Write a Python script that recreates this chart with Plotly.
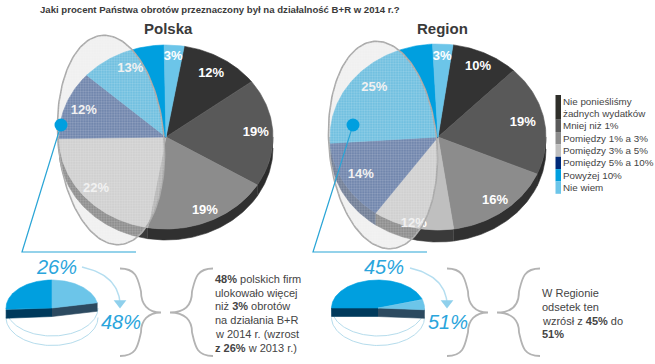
import numpy as np
import plotly.graph_objects as go

# ---------- data ----------
CATEGORIES = ["Nie ponieśliśmy żadnych wydatków", "Mniej niż 1%", "Pomiędzy 1% a 3%",
              "Pomiędzy 3% a 5%", "Pomiędzy 5% a 10%", "Powyżej 10%", "Nie wiem"]
POLSKA = [12, 19, 19, 22, 12, 13, 3]
REGION = [10, 19, 16, 12, 14, 25, 3]
POLSKA_PREV, POLSKA_NOW = 26, 48
REGION_PREV, REGION_NOW = 45, 51
TITLE = "Jaki procent Państwa obrotów przeznaczony był na działalność B+R w 2014 r.?"
POLSKA_TEXT = ["<b>48%</b> polskich firm", "ulokowało więcej", "niż <b>3%</b> obrotów",
               "na działania B+R", "w 2014 r. (wzrost", "<b>z 26%</b> w 2013 r.)"]
REGION_TEXT = ["W Regionie", "odsetek ten", "wzrósł z <b>45%</b> do", "<b>51%</b>"]
LEGEND_LINES = [["Nie ponieśliśmy", "żadnych wydatków"], ["Mniej niż 1%"], ["Pomiędzy 1% a 3%"],
                ["Pomiędzy 3% a 5%"], ["Pomiędzy 5% a 10%"], ["Powyżej 10%"], ["Nie wiem"]]

# ---------- style ----------
COLORS = ["#333333", "#595959", "#8c8c8c", "#bfbfbf", "#002a78", "#009fdf", "#6cc5e9"]
WALLS = ["#222222", "#2b2b2b", "#303030", "#3a3a3a", "#001a4a", "#00608a", "#4a8aa5"]
LEGEND_COLORS = ["#2f2f2a", "#5a5a5a", "#8c8c8c", "#bfbfbf", "#002a78", "#009fdf", "#6cc5e9"]
BLUE, LIGHT = "#009fdf", "#6cc5e9"
TXT = "#444444"
FONT = "Liberation Sans"
POL_R = [.81, .84, .88, .86, .82, .81, .88]
REG_R = [.84, .80, .87, .96, .82, .79, .86]

fig = go.Figure()


def ell(cx, cy, rx, ry, deg):
    t = np.radians(deg)
    return cx + rx * np.sin(t), cy - ry * np.cos(t)


def poly(xs, ys, color, lw=0.6):
    fig.add_trace(go.Scatter(x=list(xs), y=list(ys), mode="lines", fill="toself", fillcolor=color,
                             line=dict(color=color, width=lw), hoverinfo="skip", showlegend=False))


def wedge(cx, cy, rx, ry, a, b, color):
    t = np.linspace(a, b, max(int(abs(b - a)), 2) + 1)
    x, y = ell(cx, cy, rx, ry, t)
    poly(np.r_[cx, x, cx], np.r_[cy, y, cy], color)


def wall(cx, cy, rx, ry, a, b, depth, color):
    lo, hi = max(a, 90), min(b, 270)
    if hi <= lo:
        return
    t = np.linspace(lo, hi, int(hi - lo) + 2)
    x, y = ell(cx, cy, rx, ry, t)
    poly(np.r_[x, x[::-1]], np.r_[y, y[::-1] + depth], color)


def pie(values, cx, cy, rx, ry, start, depth, radial):
    k = 360.0 / sum(values)
    edges = start + np.r_[0, np.cumsum(values)] * k
    for i in range(len(values)):
        wall(cx, cy, rx, ry, edges[i], edges[i + 1], depth, WALLS[i])
    for i in range(len(values)):
        wedge(cx, cy, rx, ry, edges[i], edges[i + 1], COLORS[i])
    for i, v in enumerate(values):
        mid = (edges[i] + edges[i + 1]) / 2
        lx, ly = ell(cx, cy, rx * radial[i], ry * radial[i], mid)
        fig.add_trace(go.Scatter(x=[lx], y=[ly], mode="text", text=[f"<b>{v}%</b>"], hoverinfo="skip",
                                 textfont=dict(family=FONT, size=13, color="white"), showlegend=False))


def overlay(cx, cy, a, b, tilt):
    t = np.radians(tilt)
    c, s = np.cos(t), np.sin(t)
    u = np.linspace(0, 2 * np.pi, 181)
    x = cx + b * np.cos(u) * c + a * np.sin(u) * s
    y = cy - b * np.cos(u) * s + a * np.sin(u) * c
    fig.add_trace(go.Scatter(x=x, y=y, mode="lines", fill="toself", fillcolor="rgba(225,225,225,0.5)",
                             line=dict(color="#a9a9a9", width=1.6), hoverinfo="skip", showlegend=False))
    gx, gy = [], []
    A = s * s / b ** 2 + c * c / a ** 2
    A2 = c * c / b ** 2 + s * s / a ** 2
    K = -c * s / b ** 2 + s * c / a ** 2
    for d in np.arange(-b - 6, b + 6, 2.6):
        disc = (2 * d * K) ** 2 - 4 * A * (d * d * A2 - 1)
        if disc > 0:
            r = np.sqrt(disc)
            gx += [cx + d, cx + d, None]
            gy += [cy + (-2 * d * K - r) / (2 * A), cy + (-2 * d * K + r) / (2 * A), None]
    for d in np.arange(-a - 6, a + 6, 2.6):
        disc = (2 * d * K) ** 2 - 4 * A2 * (d * d * A - 1)
        if disc > 0:
            r = np.sqrt(disc)
            gy += [cy + d, cy + d, None]
            gx += [cx + (-2 * d * K - r) / (2 * A2), cx + (-2 * d * K + r) / (2 * A2), None]
    fig.add_trace(go.Scatter(x=gx, y=gy, mode="lines", line=dict(color="rgba(255,255,255,0.18)", width=0.7),
                             hoverinfo="skip", showlegend=False))


def leader(dot, corner, end):
    fig.add_trace(go.Scatter(x=[dot[0], corner[0], end[0]], y=[dot[1], corner[1], end[1]], mode="lines",
                             line=dict(color="#2aa5d6", width=1.2), hoverinfo="skip", showlegend=False))
    fig.add_trace(go.Scatter(x=[dot[0]], y=[dot[1]], mode="markers", marker=dict(color=BLUE, size=13),
                             hoverinfo="skip", showlegend=False))


def small_pie(prev, now, cx, cy, rx, ry, start, depth):
    t = np.linspace(90, 270, 91)
    x, y = ell(cx, cy, rx, ry, t)
    for off in (0, depth + 1):
        fig.add_trace(go.Scatter(x=x, y=y + off, mode="lines", line=dict(color="#b5dcec", width=1),
                                 hoverinfo="skip", showlegend=False))
    a = start
    b = start + prev * 3.6
    e = start + now * 3.6
    for deg, col in ((a, "#003a5c"), (e, "#2c4a60")):
        ex, ey = ell(cx, cy, rx, ry, deg)
        poly([cx, ex, ex, cx], [cy, ey, ey + depth, cy + depth], col)
    wedge(cx, cy, rx, ry, a, b, BLUE)
    wedge(cx, cy, rx, ry, b, e, LIGHT)


def arrow(x0, y0, x1, y1):
    t = np.linspace(0, 1, 30)
    qx, qy = x1 - 2, y0 + 8
    x = (1 - t) ** 2 * x0 + 2 * t * (1 - t) * qx + t * t * x1
    y = (1 - t) ** 2 * y0 + 2 * t * (1 - t) * qy + t * t * y1
    fig.add_trace(go.Scatter(x=x, y=y, mode="lines", line=dict(color="#b5def0", width=1.5),
                             hoverinfo="skip", showlegend=False))
    fig.add_trace(go.Scatter(x=[x1], y=[y1], mode="markers", hoverinfo="skip", showlegend=False,
                             marker=dict(symbol="triangle-down", size=11, color="#8fd0ec")))


def brace(x0, xm, xt, dirn, y0=268.5, ym=312.5, y1=356):
    yq = (y0 + ym) / 2 + 1
    yr = (ym + y1) / 2 - 2
    return (f"M{x0},{y0} C{x0 + dirn * 17},{y0} {xm - dirn * 3},{y0 + 11} {xm},{yq} "
            f"C{xm},{ym - 8} {xm + dirn * 7},{ym} {xt},{ym} "
            f"C{xm + dirn * 7},{ym} {xm},{ym + 8} {xm},{yr} "
            f"C{xm - dirn * 3},{y1 - 11} {x0 + dirn * 17},{y1} {x0},{y1}")


shapes = []
for x0, xm, xt, d in ((120, 141, 161, 1), (213, 192, 170, -1), (447, 468, 488, 1), (540, 519, 497, -1)):
    shapes.append(dict(type="path", path=brace(x0, xm, xt, d), line=dict(color="#b3b3b3", width=1.8),
                       xref="x", yref="y"))

# ---------- main pies ----------
pie(POLSKA, 166, 137, 107, 92, 9.8, 11, POL_R)
overlay(111, 140, 105, 53, 5)
leader((61, 125), (22, 252), (136, 252))

pie(REGION, 438, 137, 108, 93, 8, 12, REG_R)
overlay(383, 145, 104, 54, 5)
leader((353, 125), (313, 252), (427, 252))

# ---------- small pies ----------
small_pie(POLSKA_PREV, POLSKA_NOW, 52, 308, 46, 28, -93.6, 8.5)
small_pie(REGION_PREV, REGION_NOW, 378, 308, 46.5, 28, -90, 8.5)
arrow(82, 267, 120, 303)
arrow(410, 268, 447, 303)

# ---------- text ----------
ann = []


def text(x, y, s, size=11, color=TXT, anchor="left", italic=False):
    ann.append(dict(x=x, y=y, text=f"<i>{s}</i>" if italic else s, showarrow=False, xanchor=anchor,
                    yanchor="middle", xref="x", yref="y",
                    font=dict(family=FONT, size=size, color=color)))


text(38, 9, f"<b>{TITLE}</b>", size=9.6, color="#3a3a3a")
text(168, 28, "<b>Polska</b>", size=15, color="#3a3a3a", anchor="center")
text(442, 28, "<b>Region</b>", size=15, color="#3a3a3a", anchor="center")
for x, y, v in ((56, 267, POLSKA_PREV), (121, 322, POLSKA_NOW), (384, 267, REGION_PREV), (448, 322, REGION_NOW)):
    text(x, y, f"{v}%", size=20, color="#2aa5dc", anchor="center", italic=True)
for i, line in enumerate(POLSKA_TEXT):
    text(213, 279 + i * 13.7, line, size=11)
for i, line in enumerate(REGION_TEXT):
    text(540, 293 + i * 13.8, line, size=11)

row = 0
Y0, STEP, SW_X = 95, 12.35, (555.5, 561)
for lines, col in zip(LEGEND_LINES, LEGEND_COLORS):
    n = len(lines)
    shapes.append(dict(type="rect", x0=SW_X[0], x1=SW_X[1], y0=Y0 + row * STEP, y1=Y0 + (row + n) * STEP,
                       fillcolor=col, line=dict(width=0), xref="x", yref="y"))
    for j, s in enumerate(lines):
        text(561, Y0 + (row + j + .5) * STEP, s, size=9.8)
    row += n

fig.update_layout(width=655, height=364, margin=dict(l=0, r=0, t=0, b=0), paper_bgcolor="white",
                  plot_bgcolor="white", showlegend=False, shapes=shapes, annotations=ann,
                  xaxis=dict(range=[0, 655], visible=False, fixedrange=True),
                  yaxis=dict(range=[364, 0], visible=False, fixedrange=True))
fig.write_html("out.html", config=dict(displayModeBar=False),
               post_script="document.body.style.margin='0';")
